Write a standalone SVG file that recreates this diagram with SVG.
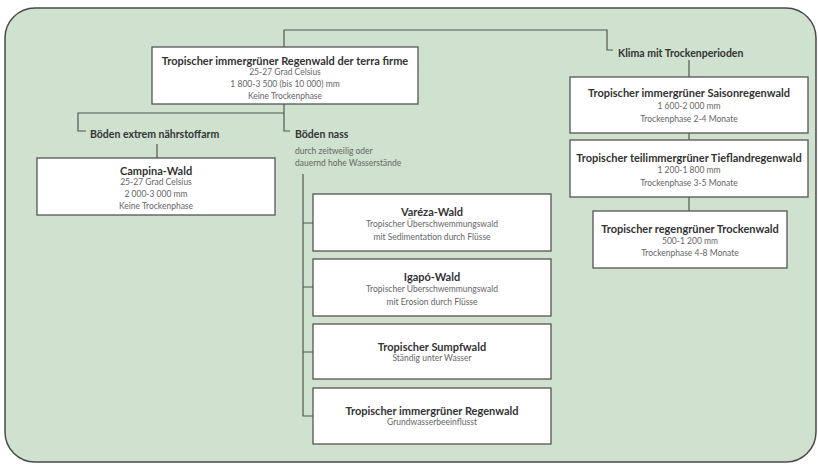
<svg xmlns="http://www.w3.org/2000/svg" width="818" height="464" viewBox="0 0 818 464">
<style>
.bg{fill:#cfe1cf;stroke:#4a4a4a;stroke-width:1.5}
.box{fill:#ffffff;stroke:#555;stroke-width:1.3}
.con{fill:none;stroke:#555;stroke-width:1.2}
text{font-family:Lato,"Open Sans","Liberation Sans",sans-serif;dominant-baseline:central}
.t{font-size:11px;font-weight:bold;fill:#333;text-anchor:middle}
.s{font-size:8.5px;fill:#666;text-anchor:middle}
.l{font-size:10.5px;font-weight:bold;fill:#333}
.ls{font-size:8.5px;fill:#666}
</style>
<rect class="bg" x="5" y="8" width="811" height="454" rx="30" ry="30"/>
<g id="connectors">
<path class="con" d="M284,47 V30 H607 V50 H613"/>
<path class="con" d="M284,104 V131 H290"/>
<path class="con" d="M284,113 H78 V131 H86"/>
<path class="con" d="M157,144 V158"/>
<path class="con" d="M303,174 V416 H313 M303,223 H313 M303,287 H313 M303,352 H313"/>
<path class="con" d="M689,60 V77 M689,133 V140 M689,197 V211"/>
</g>
<g id="main">
<rect class="box" x="152" y="47" width="266" height="57"/>
<text class="t" x="285" y="60">Tropischer immergrüner Regenwald der terra firme</text>
<text class="s" x="285" y="72">25-27 Grad Celsius</text>
<text class="s" x="285" y="84">1 800-3 500 (bis 10 000) mm</text>
<text class="s" x="285" y="96">Keine Trockenphase</text>
</g>
<g id="label-klima"><text class="l" x="618" y="53">Klima mit Trockenperioden</text></g>
<g id="label-boeden-arm"><text class="l" x="90" y="134">Böden extrem nährstoffarm</text></g>
<g id="label-boeden-nass">
<text class="l" x="295" y="134">Böden nass</text>
<text class="ls" x="295" y="151">durch zeitweilig oder</text>
<text class="ls" x="295" y="163">dauernd hohe Wasserstände</text>
</g>
<g id="campina">
<rect class="box" x="37" y="158" width="238" height="57"/>
<text class="t" x="156" y="170">Campina-Wald</text>
<text class="s" x="156" y="182">25-27 Grad Celsius</text>
<text class="s" x="156" y="194">2 000-3 000 mm</text>
<text class="s" x="156" y="206">Keine Trockenphase</text>
</g>
<g id="vareza">
<rect class="box" x="313" y="194" width="238" height="57"/>
<text class="t" x="432" y="211">Varéza-Wald</text>
<text class="s" x="432" y="224">Tropischer Überschwemmungswald</text>
<text class="s" x="432" y="237">mit Sedimentation durch Flüsse</text>
</g>
<g id="igapo">
<rect class="box" x="313" y="259" width="238" height="57"/>
<text class="t" x="432" y="276">Igapó-Wald</text>
<text class="s" x="432" y="289">Tropischer Überschwemmungswald</text>
<text class="s" x="432" y="302">mit Erosion durch Flüsse</text>
</g>
<g id="sumpf">
<rect class="box" x="313" y="324" width="238" height="55"/>
<text class="t" x="432" y="346">Tropischer Sumpfwald</text>
<text class="s" x="432" y="358">Ständig unter Wasser</text>
</g>
<g id="grundwasser">
<rect class="box" x="313" y="388" width="238" height="56"/>
<text class="t" x="432" y="410">Tropischer immergrüner Regenwald</text>
<text class="s" x="432" y="422">Grundwasserbeeinflusst</text>
</g>
<g id="saison">
<rect class="box" x="570" y="77" width="238" height="56"/>
<text class="t" x="689" y="92">Tropischer immergrüner Saisonregenwald</text>
<text class="s" x="689" y="106">1 600-2 000 mm</text>
<text class="s" x="689" y="119">Trockenphase 2-4 Monate</text>
</g>
<g id="tiefland">
<rect class="box" x="570" y="140" width="238" height="57"/>
<text class="t" x="689" y="157">Tropischer teilimmergrüner Tieflandregenwald</text>
<text class="s" x="689" y="170">1 200-1 800 mm</text>
<text class="s" x="689" y="183">Trockenphase 3-5 Monate</text>
</g>
<g id="trockenwald">
<rect class="box" x="593" y="211" width="194" height="57"/>
<text class="t" x="690" y="228">Tropischer regengrüner Trockenwald</text>
<text class="s" x="690" y="241">500-1 200 mm</text>
<text class="s" x="690" y="253">Trockenphase 4-8 Monate</text>
</g>
</svg>
